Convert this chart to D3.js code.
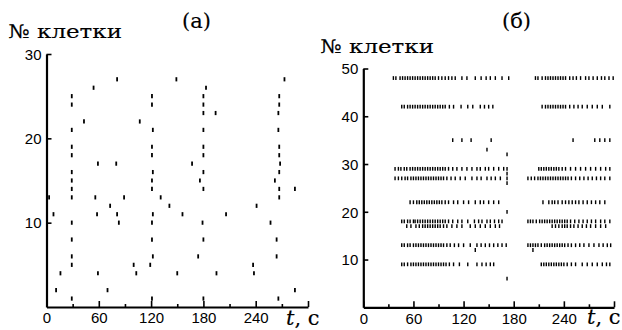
<!DOCTYPE html>
<html><head><meta charset="utf-8">
<script src="https://cdn.jsdelivr.net/npm/d3@7"></script>
<style>
html,body{margin:0;padding:0;background:#fff;}
svg{display:block;}
.tl{font-family:"Liberation Sans Narrow","Liberation Sans",Arial,sans-serif;font-size:15px;fill:#000;}
.sf{font-family:"DejaVu Serif","Liberation Serif",serif;fill:#000;stroke:#000;stroke-width:0.15px;}
</style></head>
<body>
<svg id="c" width="622" height="330"></svg>
<script>
// ---------- Panel (а): cell numbers and spike times (s) ----------
const cellsA = [27, 26, 25, 24, 23, 22, 21, 19, 18, 17, 16, 15, 14, 13, 12, 11, 10, 8, 6, 5, 4, 2, 1];
const trainsA = [
  [81, 149, 273],
  [54, 183],
  [29, 121, 180, 267],
  [29, 121, 180, 267],
  [180, 194, 266],
  [43, 107],
  [29, 122, 180, 266],
  [29, 121, 180, 267],
  [29, 121, 180, 267],
  [59, 80, 167, 268],
  [29, 122, 180, 267],
  [29, 121, 176, 262],
  [29, 121, 180, 267, 285],
  [3, 29, 56, 89, 131, 267],
  [73, 141, 241],
  [8, 58, 81, 122, 156, 206],
  [29, 83, 121, 179, 257],
  [29, 121, 180, 264],
  [29, 122, 174, 264],
  [29, 100, 119, 237],
  [16, 59, 103, 150, 195, 238],
  [11, 70, 285],
  [29, 121, 180, 266]
];
// ---------- Panel (б) ----------
const cellsB = [48, 42, 35, 33, 32, 29, 28, 27, 26, 22, 20, 18, 17, 13, 12, 9, 6];
const trainsB = [
  [36, 39, 44, 47, 50, 53, 56, 59, 62, 65, 68, 71, 74, 77, 80, 83, 86, 90, 94, 98, 102, 106, 110, 118, 124, 134, 141, 147, 152, 158, 166, 174,
   206, 209, 214, 218, 221, 224, 227, 230, 233, 236, 239, 242, 247, 251, 255, 260, 266, 270, 275, 280, 285, 289, 294, 299],
  [46, 49, 53, 56, 59, 62, 65, 68, 71, 74, 77, 80, 83, 86, 89, 92, 95, 98, 103, 108, 117, 125, 131, 140, 145, 150, 155,
   214, 218, 221, 224, 227, 230, 233, 236, 239, 242, 247, 252, 257, 262, 268, 274, 280, 286, 295],
  [107, 118, 129, 153, 251, 277, 283, 289, 295],
  [148],
  [172],
  [38, 42, 45, 49, 52, 56, 59, 62, 65, 68, 71, 74, 77, 80, 83, 86, 89, 92, 95, 98, 102, 107, 112, 118, 124, 130, 136, 140, 146, 150, 156, 162, 168, 172,
   210, 213, 216, 219, 222, 225, 228, 231, 234, 238, 242, 248, 254, 260, 266, 272, 278, 284, 290, 295],
  [172],
  [38, 42, 46, 50, 53, 57, 60, 63, 66, 69, 72, 75, 78, 81, 84, 87, 90, 93, 96, 100, 105, 110, 116, 122, 130, 136, 141, 148, 153, 158, 164, 172,
   197, 201, 205, 209, 212, 215, 218, 221, 224, 227, 230, 233, 236, 239, 242, 245, 249, 254, 259, 264, 269, 274, 279, 284, 289, 295],
  [172],
  [56, 60, 64, 67, 70, 73, 76, 79, 82, 85, 88, 91, 94, 98, 102, 108, 113, 120, 126, 134, 140, 144, 150, 156, 162,
   215, 222, 226, 229, 233, 238, 242, 246, 250, 254, 258, 263, 268, 273, 278, 283, 289],
  [172],
  [46, 49, 53, 56, 60, 62, 65, 68, 71, 74, 77, 80, 83, 86, 89, 92, 95, 98, 102, 107, 113, 118, 125, 133, 138, 142, 148, 152, 157, 162, 166,
   197, 200, 203, 207, 211, 214, 217, 220, 223, 226, 229, 232, 235, 238, 241, 244, 248, 253, 258, 263, 268, 273, 278, 284, 289, 295],
  [52, 57, 63, 67, 71, 74, 77, 80, 83, 86, 89, 92, 96, 100, 106, 112, 118, 128, 134, 140, 146, 152, 158, 163,
   226, 230, 234, 238, 241, 244, 248, 252, 257, 262, 267, 272, 278, 284, 290],
  [46, 49, 53, 56, 60, 63, 66, 69, 72, 75, 78, 81, 84, 87, 90, 93, 96, 100, 104, 109, 114, 120, 128, 136, 141, 146, 151, 156, 161, 166, 171,
   197, 200, 203, 206, 209, 213, 217, 220, 223, 226, 229, 232, 235, 238, 241, 245, 249, 254, 259, 264, 270, 276, 282, 287, 292, 296],
  [134, 203],
  [46, 49, 53, 57, 60, 63, 66, 69, 72, 75, 78, 81, 84, 87, 90, 93, 96, 99, 103, 108, 115, 125, 136, 142, 147, 152, 156,
   213, 216, 219, 222, 225, 228, 231, 234, 237, 240, 244, 249, 254, 262, 268, 274, 280, 286, 291, 295],
  [172]
];
const xMajorTicks = [0, 60, 120, 180, 240, 300];
const xMinorTicks = [30, 90, 150, 210, 270];
const xTickLabels = ["0", "60", "120", "180", "240", ""];
const yTicksA = [10, 20, 30];
const yTicksB = [10, 20, 30, 40, 50];

const svg = d3.select("#c");
svg.append("rect").attr("width",622).attr("height",330).attr("fill","#fff");

function panel(o){
  const x = d3.scaleLinear().domain([0,300]).range(o.xr);
  const y = d3.scaleLinear().domain(o.yd).range(o.yr);
  const g = svg.append("g");
  o.cells.forEach((c,i)=>{
    g.selectAll(null).data(o.trains[i]).enter().append("line")
      .attr("x1",d=>x(d)).attr("x2",d=>x(d))
      .attr("y1",y(c)-o.h/2).attr("y2",y(c)+o.h/2)
      .attr("stroke","#000").attr("stroke-width",o.sw);
  });
  const xa = g.append("g").attr("transform",`translate(0,${o.yr[0]})`)
    .call(d3.axisBottom(x).tickValues(xMajorTicks).tickSize(-6).tickSizeOuter(0)
      .tickPadding(5).tickFormat((d,i)=>xTickLabels[i]));
  const xm = g.append("g").attr("transform",`translate(0,${o.yr[0]})`)
    .call(d3.axisBottom(x).tickValues(xMinorTicks).tickSize(-3).tickSizeOuter(0).tickFormat(""));
  xm.select(".domain").remove();
  const ya = g.append("g").attr("transform",`translate(${o.xr[0]},0)`)
    .call(d3.axisLeft(y).tickValues(o.yt).tickSize(-5).tickSizeOuter(0).tickPadding(5));
  [xa,xm,ya].forEach(a=>{
    a.selectAll("text").attr("class","tl").attr("font-family",null).attr("font-size",null);
    a.selectAll("line").attr("stroke","#000").attr("stroke-width",1.6);
    a.select(".domain").attr("stroke","#000").attr("stroke-width",2.2);
    a.attr("font-family",null).attr("font-size",null);
  });
  xa.selectAll("text").attr("dy","0.75em");
  ya.selectAll("text").attr("dy","0.35em");
}

panel({xr:[46.5,308], yd:[0,30], yr:[307,54], yt:yTicksA, cells:cellsA, trains:trainsA, h:4.2, sw:1.8});
panel({xr:[363.3,614], yd:[0,50], yr:[307.3,68.5], yt:yTicksB, cells:cellsB, trains:trainsB, h:3.8, sw:1.4});

function stxt(x,y,s,size,len){
  const t = svg.append("text").attr("class","sf").attr("x",x).attr("y",y).attr("font-size",size).text(s);
  if(len) t.attr("textLength",len).attr("lengthAdjust","spacingAndGlyphs");
  return t;
}
stxt(182,28,"(а)",21);
stxt(502,28,"(б)",21);
stxt(8,38,"№ клетки",19,114);
stxt(320,53,"№ клетки",19,114);
function tlabel(x,y){
  const t = svg.append("text").attr("class","sf").attr("x",x).attr("y",y).attr("font-size",21);
  t.append("tspan").attr("font-style","italic").text("t");
  t.append("tspan").text(", с");
}
tlabel(286,325);
tlabel(587,324);
</script>
</body></html>
